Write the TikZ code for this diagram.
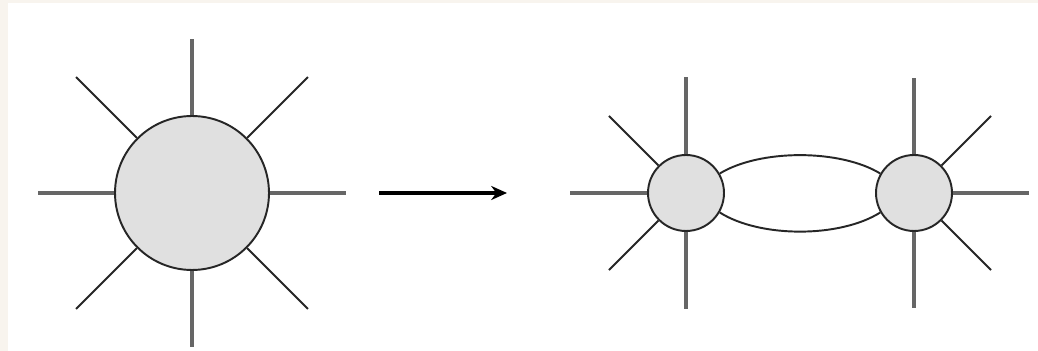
\documentclass[tikz,border=0pt]{standalone}
\usetikzlibrary{arrows.meta}
\definecolor{paper}{HTML}{F8F4EE}
\definecolor{blobfill}{HTML}{E0E0E0}
\definecolor{legcol}{HTML}{666666}
\tikzset{
  blob/.style={circle, draw=black!85, line width=1.1pt, fill=blobfill, inner sep=0pt},
  straightleg/.style={draw=legcol, line width=2pt},
  diagleg/.style={draw=black!85, line width=1.1pt},
  prop/.style={draw=black!85, line width=1.1pt},
}
\begin{document}
\begin{tikzpicture}[x=0.02cm, y=-0.02cm]
\useasboundingbox (0,0) rectangle (1038,351);
\fill[paper] (0,0) rectangle (1038,351);
\fill[white] (8,3) rectangle (1038,351);

% big vertex
\node[blob, minimum size=3.08cm] (big) at (192,193) {};
\foreach \a in {0,90,180,270}
  \draw[straightleg] (big.\a) -- ++(\a:1.53cm);
\foreach \a in {45,135,225,315}
  \draw[diagleg] (big.\a) -- ++(\a:1.72cm);

% arrow
\coordinate (from) at (379,193);
\coordinate (to) at (507,193);
\draw[line width=2.2pt, -{Stealth[length=9pt, width=8pt]}] (from) -- (to);

% two vertices joined by a loop
\node[blob, minimum size=1.52cm] (l) at (686,193) {};
\node[blob, minimum size=1.52cm] (r) at (914,193) {};
\foreach \a in {90,180,270}
  \draw[straightleg] (l.\a) -- ++(\a:1.54cm);
\foreach \a in {135,225}
  \draw[diagleg] (l.\a) -- ++(\a:1.40cm);
\foreach \a in {0,90,270}
  \draw[straightleg] (r.\a) -- ++(\a:1.53cm);
\foreach \a in {45,315}
  \draw[diagleg] (r.\a) -- ++(\a:1.40cm);
\draw[prop] (l.30) .. controls (760,149) and (840,149) .. (r.150);
\draw[prop] (l.-30) .. controls (760,238) and (840,238) .. (r.-150);
\end{tikzpicture}
\end{document}
